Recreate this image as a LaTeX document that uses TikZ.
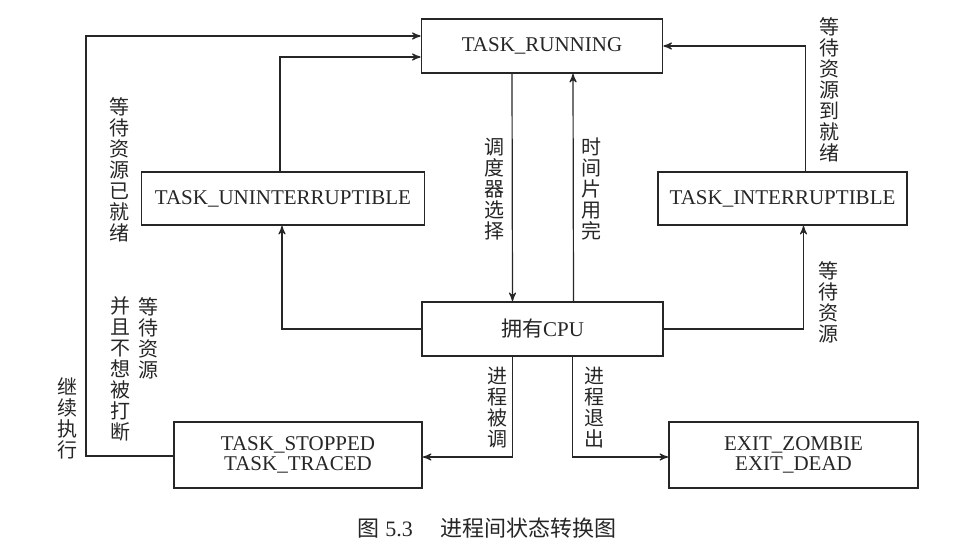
\documentclass[tikz,border=0pt]{standalone}
\usepackage{fontspec}
\setmainfont{Liberation Serif}
\newfontfamily\cjk{Noto Sans CJK SC}
\usetikzlibrary{arrows}

\begin{document}
\begin{tikzpicture}[x=.5pt, y=-.5pt, black!85, font=\fontsize{10.5}{12}\selectfont,
 box/.style={draw, line width=.9pt, align=center, inner sep=2pt},
 lbl/.style={font=\fontsize{10}{10.5}\selectfont\cjk, align=center, inner sep=0pt}]
\useasboundingbox (0,0) rectangle (958,551);
% states
\node[box, minimum width=120.5pt, minimum height=27pt] (run) at (542,46) {TASK\_RUNNING};
\node[box, minimum width=141.5pt, minimum height=26.5pt] (unint) at (283,198.5) {TASK\_UNINTERRUPTIBLE};
\node[box, minimum width=124.5pt, minimum height=26.5pt] (inter) at (782.5,198.5) {TASK\_INTERRUPTIBLE};
\node[box, minimum width=120.5pt, minimum height=27pt] (cpu) at (542.5,329) {{\cjk 拥有}CPU};
\node[box, minimum width=124pt, minimum height=33pt] (stop) at (298,455) {TASK\_STOPPED\\[-2pt]TASK\_TRACED};
\node[box, minimum width=124.5pt, minimum height=33pt] (exit) at (793.5,455) {EXIT\_ZOMBIE\\[-2pt]EXIT\_DEAD};
\coordinate (back) at (86,36);
% transitions
\draw[->, >=stealth', line width=.6pt] ([xshift=-15pt]run.south) -- ([xshift=-15pt]cpu.north);
\draw[->, >=stealth', line width=.6pt] ([xshift=15.5pt]cpu.north) -- ([xshift=15.5pt]run.south);
\draw[->, >=stealth', line width=.6pt] ([xshift=-1.5pt]unint.north) |- ([yshift=-5.5pt]run.west);
\draw[->, >=stealth', line width=.6pt] (cpu.west) -| ([xshift=-.5pt]unint.south);
\draw[->, >=stealth', line width=.6pt] ([xshift=11.5pt]inter.north) |- (run.east);
\draw[->, >=stealth', line width=.6pt] (cpu.east) -| ([xshift=10.5pt]inter.south);
\draw[->, >=stealth', line width=.6pt] ([xshift=-15pt]cpu.south) |- ([yshift=-1pt]stop.east);
\draw[->, >=stealth', line width=.6pt] ([xshift=15pt]cpu.south) |- ([yshift=-1pt]exit.west);
\draw[->, >=stealth', line width=.6pt] ([yshift=-.5pt]stop.west) -| (back) -- (back -| run.west);
% labels
\foreach \px/\py/\txt [count=\i] in {
  119/170/{等\\待\\资\\源\\已\\就\\绪},
  494/189/{调\\度\\器\\选\\择},
  591/189/{时\\间\\片\\用\\完},
  829/90/{等\\待\\资\\源\\到\\就\\绪},
  828/302/{等\\待\\资\\源},
  148/338/{等\\待\\资\\源},
  120/369/{并\\且\\不\\想\\被\\打\\断},
  67/418/{继\\续\\执\\行},
  497/408/{进\\程\\被\\调},
  594/408/{进\\程\\退\\出}}
 \node[lbl] (lbl\i) at (\px,\py) {\txt};
\node[font=\fontsize{11}{12}\selectfont] (cap) at (487,528) {{\cjk 图}\ 5.3\quad\ {\cjk 进程间状态转换图}};
\end{tikzpicture}
\end{document}
